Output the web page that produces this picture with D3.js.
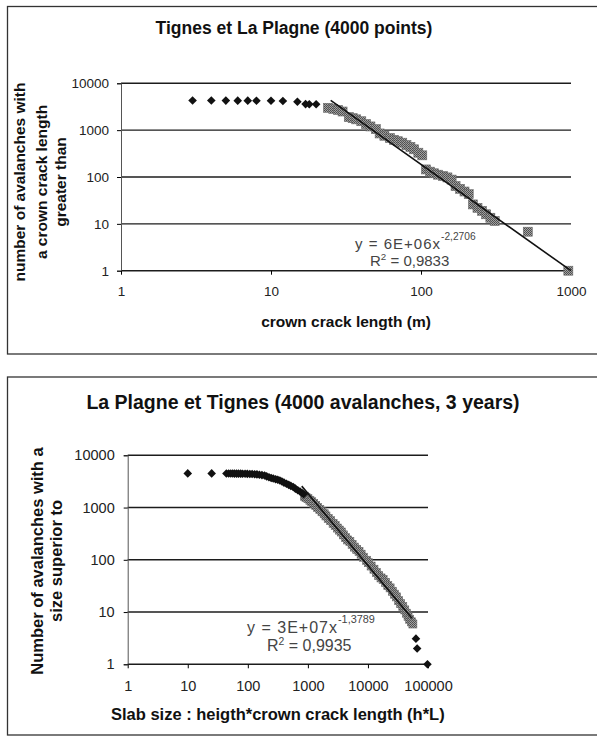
<!DOCTYPE html>
<html>
<head>
<meta charset="utf-8">
<script src="https://cdn.jsdelivr.net/npm/d3@7"></script>
<style>
  body { margin: 0; background: #fff; }
  text { font-family: "Liberation Sans", Arial, sans-serif; }
  .tick text { fill: #222; }
  .axisTitle { font-weight: bold; fill: #111; }
  .eq { fill: #444; }
</style>
</head>
<body>
<div id="chart"></div>
<script>
// Top chart data: crown crack length (m) vs cumulative count
var topBlackX = [3, 4, 5, 6, 7, 8, 10, 12, 15, 17, 18, 20];
var topBlackY = [4280, 4280, 4270, 4260, 4260, 4250, 4240, 4200, 4050, 3600, 3580, 3560];
var topGrayX = [24, 26, 28, 30, 33, 35, 37, 40, 43, 46, 50, 53, 57, 62, 66, 70, 75, 80, 85, 90, 96, 102,
  108, 115, 122, 130, 140, 150, 160, 170, 182, 195, 208, 222, 238, 255, 272, 290, 310, 515, 960];
var topGrayY = [3000, 2850, 2700, 2500, 1900, 1800, 1700, 1550, 1350, 1200, 1050, 850, 760, 680, 620, 580, 540, 480, 440, 390, 330, 290,
  145, 130, 120, 112, 105, 98, 88, 64, 56, 49, 43, 26, 22, 19, 16, 13.5, 11.5, 6.8, 1];
var topTrendX = [25, 1000];
var topTrendY = [4300, 1.0];
var topXTicks = [1, 10, 100, 1000];
var topYTicks = [1, 10, 100, 1000, 10000];

// Bottom chart data: slab size (h*L) vs cumulative count
var botBlackX = [10, 25, 44, 48, 52, 56, 60, 65, 70, 76, 82, 90, 98, 108, 118, 130, 142, 156, 172, 190, 206, 225,
  245, 265, 290, 315, 342, 370, 400, 440, 480, 520, 570, 620, 680, 740, 800, 850, 63000, 66000, 98000];
var botBlackY = [4500, 4500, 4480, 4480, 4470, 4470, 4460, 4460, 4450, 4450, 4440, 4430, 4420, 4400, 4380, 4350, 4310, 4250, 4180, 4100, 3950, 3800,
  3680, 3600, 3480, 3400, 3300, 3150, 3000, 2850, 2720, 2600, 2480, 2300, 2150, 2030, 1900, 1800, 3.1, 2, 1];
var botGrayX = [880, 930, 1000, 1080, 1160, 1250, 1350, 1450, 1580, 1720, 1870, 2000, 2180, 2400, 2630, 2850, 3100, 3350,
  3600, 3900, 4250, 4600, 5000, 5450, 5950, 6500, 7100, 7700, 8400, 9500, 10200, 11300, 12600, 13800, 15100, 16500,
  17900, 19600, 21400, 23400, 25500, 27600, 29900, 32500, 35000, 38000, 41000, 43600, 46500, 49500, 53000, 56000];
var botGrayY = [1650, 1560, 1480, 1380, 1290, 1190, 1100, 1010, 920, 830, 760, 690, 620, 560, 500, 455, 405, 370,
  340, 300, 265, 240, 224, 198, 175, 158, 145, 128, 112, 98, 88, 76, 66, 57, 50, 45,
  42, 37, 32, 29, 25, 22, 19.5, 16.5, 14.5, 12.8, 11, 9.5, 8.3, 7.3, 6.5, 5.9];
var botTrendX = [790, 54000];
var botTrendY = [2570, 7.6];
var botXTicks = [1, 10, 100, 1000, 10000, 100000];
var botYTicks = [1, 10, 100, 1000, 10000];

var svg = d3.select("#chart")
  .append("svg")
  .attr("width", 597)
  .attr("height", 740);

// dithered grey fill like the scanned excel markers
var pat = svg.append("defs").append("pattern")
  .attr("id", "dither")
  .attr("width", 2)
  .attr("height", 2)
  .attr("patternUnits", "userSpaceOnUse");
pat.append("rect").attr("width", 2).attr("height", 2).attr("fill", "#a2a2a2");
pat.append("rect").attr("width", 1).attr("height", 1).attr("fill", "#4a4a4a");
pat.append("rect").attr("x", 1).attr("y", 1).attr("width", 1).attr("height", 1).attr("fill", "#555");

// frames
svg.append("rect").attr("x", 7.5).attr("y", 6.5).attr("width", 600).attr("height", 347.5)
  .attr("fill", "none").attr("stroke", "#333").attr("stroke-width", 1.3);
svg.append("rect").attr("x", 7.5).attr("y", 377).attr("width", 600).attr("height", 358)
  .attr("fill", "none").attr("stroke", "#333").attr("stroke-width", 1.3);

function zip(xs, ys) {
  return xs.map(function (d, i) { return { x: d, y: ys[i] }; });
}

function drawChart(opt) {
  var x = d3.scaleLog().domain(opt.xDomain).range([opt.left, opt.right]);
  var y = d3.scaleLog().domain([1, 10000]).range([opt.bottom, opt.top]);
  var g = svg.append("g");

  // gridlines
  g.selectAll(".grid")
    .data(opt.yTicks)
    .enter()
    .append("line")
    .attr("x1", opt.left)
    .attr("x2", opt.right)
    .attr("y1", d => y(d))
    .attr("y2", d => y(d))
    .attr("stroke", "#1c1c1c")
    .attr("stroke-width", 1.4);

  // y axis
  var leftAxis = d3.axisLeft(y)
    .tickValues(opt.yTicks)
    .tickFormat(d3.format("d"))
    .tickSize(4)
    .tickPadding(opt.yPad);
  var ya = g.append("g")
    .attr("transform", `translate(${opt.left}, 0)`)
    .call(leftAxis);
  ya.select(".domain").attr("stroke", "#555");
  ya.selectAll("text").style("font-size", opt.tickFont + "px");

  // x axis
  var bottomAxis = d3.axisBottom(x)
    .tickValues(opt.xTicks)
    .tickFormat(d3.format("d"))
    .tickSize(4)
    .tickPadding(12);
  var xa = g.append("g")
    .attr("transform", `translate(0, ${opt.bottom})`)
    .call(bottomAxis);
  xa.select(".domain").remove();
  xa.selectAll("text").style("font-size", opt.tickFont + "px");

  // grey markers (fitted part)
  g.selectAll(".gray")
    .data(opt.gray)
    .enter()
    .append("rect")
    .attr("x", d => x(d.x) - opt.sq / 2)
    .attr("y", d => y(d.y) - opt.sq / 2)
    .attr("width", opt.sq)
    .attr("height", opt.sq)
    .attr("fill", "url(#dither)")
    .attr("stroke", "#6a6a6a")
    .attr("stroke-width", 0.6);

  // black diamonds
  g.selectAll(".black")
    .data(opt.black)
    .enter()
    .append("path")
    .attr("transform", d => `translate(${x(d.x)}, ${y(d.y)})`)
    .attr("d", "M0,-4.3L4.3,0L0,4.3L-4.3,0Z")
    .attr("fill", "#111");

  // power trendline
  g.append("path")
    .datum(opt.trend)
    .attr("fill", "none")
    .attr("stroke", "#111")
    .attr("stroke-width", 1.6)
    .attr("d", d3.line().x(d => x(d.x)).y(d => y(d.y)));

  // title
  svg.append("text")
    .attr("x", opt.titleX)
    .attr("y", opt.titleY)
    .attr("text-anchor", "middle")
    .attr("class", "axisTitle")
    .style("font-size", opt.titleFont + "px")
    .text(opt.title);

  // x axis title
  svg.append("text")
    .attr("x", (opt.left + opt.right) / 2)
    .attr("y", opt.xTitleY)
    .attr("text-anchor", "middle")
    .attr("class", "axisTitle")
    .style("font-size", opt.axisFont + "px")
    .text(opt.xTitle);

  // y axis title, several lines
  opt.yTitle.forEach(function (line, i) {
    svg.append("text")
      .attr("transform", `translate(${opt.yTitleX[i]}, ${opt.yTitleMid}) rotate(-90)`)
      .attr("text-anchor", "middle")
      .attr("class", "axisTitle")
      .style("font-size", opt.axisFont + "px")
      .text(line);
  });

  // equation and R2
  svg.append("text")
    .attr("class", "eq")
    .attr("x", opt.eq.x)
    .attr("y", opt.eq.y)
    .attr("textLength", opt.eq.len)
    .attr("lengthAdjust", "spacing")
    .style("font-size", opt.eq.font + "px")
    .text(opt.eq.main);
  svg.append("text")
    .attr("class", "eq")
    .attr("x", opt.eq.x + opt.eq.len + 1)
    .attr("y", opt.eq.y - opt.eq.font * 0.6)
    .style("font-size", (opt.eq.font * 0.68) + "px")
    .text(opt.eq.exp);
  var r2 = svg.append("text")
    .attr("class", "eq")
    .attr("x", opt.eq.rx)
    .attr("y", opt.eq.y + opt.eq.font * 1.15)
    .style("font-size", opt.eq.font + "px");
  r2.append("tspan").text("R");
  r2.append("tspan").attr("dy", -opt.eq.font * 0.4).style("font-size", (opt.eq.font * 0.65) + "px").text("2");
  r2.append("tspan").attr("dy", opt.eq.font * 0.4).text(" = " + opt.eq.r2);
}

drawChart({
  xDomain: [1, 1000], xTicks: topXTicks, yTicks: topYTicks,
  left: 121, right: 571, top: 83.3, bottom: 270.7,
  yPad: 8, tickFont: 13.5, sq: 9,
  gray: zip(topGrayX, topGrayY),
  black: zip(topBlackX, topBlackY),
  trend: zip(topTrendX, topTrendY),
  title: "Tignes et La Plagne (4000 points)", titleX: 294, titleY: 34, titleFont: 17.5,
  xTitle: "crown crack length (m)", xTitleY: 327, axisFont: 15.5,
  yTitle: ["number of avalanches with", "a crown crack length", "greater than"],
  yTitleX: [25, 47, 66], yTitleMid: 182,
  eq: { x: 355, y: 249, len: 85, font: 15, main: "y = 6E+06x", exp: "-2,2706", rx: 370, r2: "0,9833" }
});

drawChart({
  xDomain: [1, 100000], xTicks: botXTicks, yTicks: botYTicks,
  left: 127.7, right: 428, top: 455.3, bottom: 664.3,
  yPad: 9, tickFont: 14.5, sq: 8,
  gray: zip(botGrayX, botGrayY),
  black: zip(botBlackX, botBlackY),
  trend: zip(botTrendX, botTrendY),
  title: "La Plagne et Tignes (4000 avalanches, 3 years)", titleX: 303, titleY: 409, titleFont: 19.5,
  xTitle: "Slab size : heigth*crown crack length (h*L)", xTitleY: 720, axisFont: 16.5,
  yTitle: ["Number of avalanches with a", "size superior to"],
  yTitleX: [43, 62], yTitleMid: 561,
  eq: { x: 247, y: 633, len: 90, font: 16, main: "y = 3E+07x", exp: "-1,3789", rx: 267, r2: "0,9935" }
});
</script>
</body>
</html>
